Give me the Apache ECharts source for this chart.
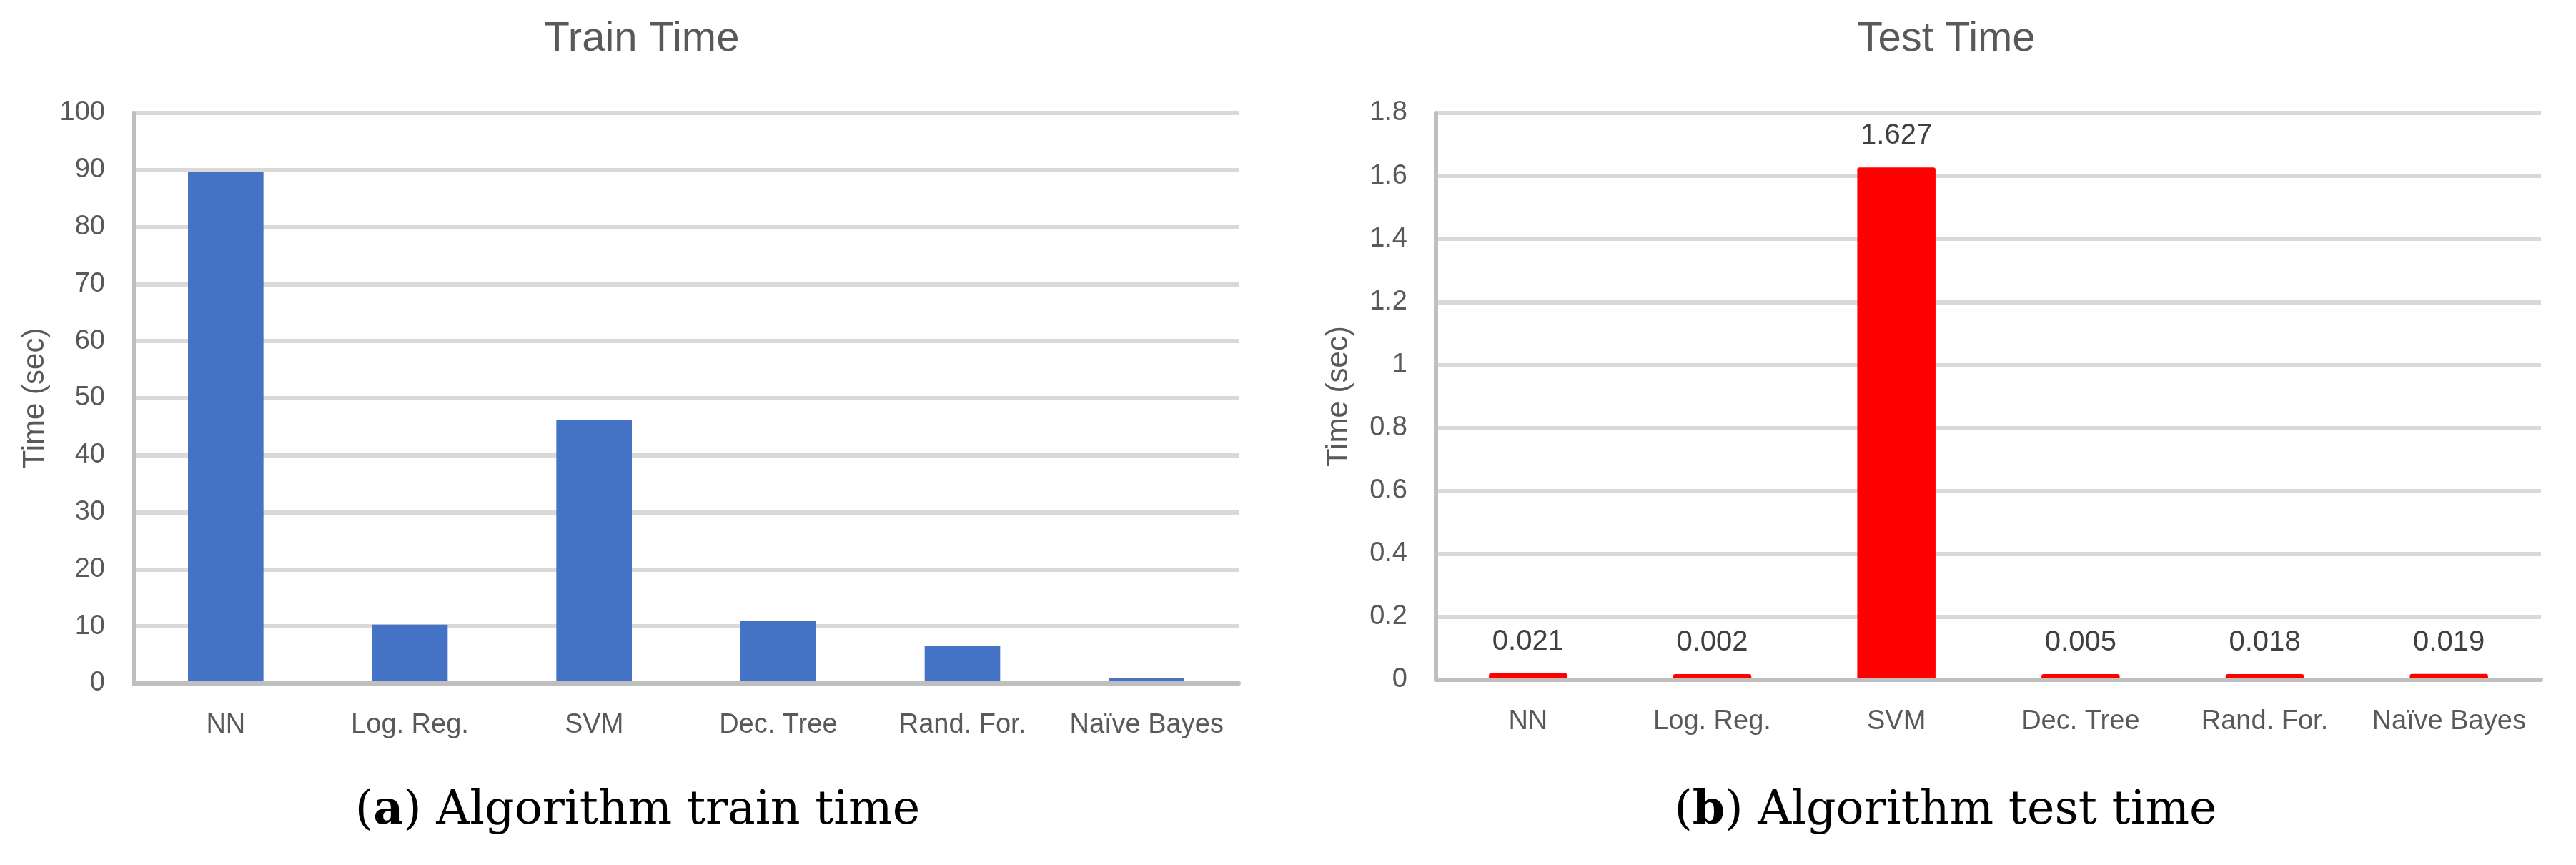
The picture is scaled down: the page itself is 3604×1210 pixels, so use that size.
<!DOCTYPE html>
<html>
<head>
<meta charset="utf-8">
<script src="https://cdn.jsdelivr.net/npm/echarts@6/dist/echarts.min.js"></script>
<style>
html,body{margin:0;padding:0;background:#fff;}
#chart{width:3604px;height:1210px;}
</style>
</head>
<body>
<div id="chart"></div>
<script>
const categories = ['NN', 'Log. Reg.', 'SVM', 'Dec. Tree', 'Rand. For.', 'Naïve Bayes'];
const trainTime = [89.6, 10.3, 46.1, 11.0, 6.6, 1.0];
const testTime = [0.021, 0.002, 1.627, 0.005, 0.018, 0.019];
const trainTitle = 'Train Time';
const testTitle = 'Test Time';
const yName = 'Time (sec)';
const captionA = ['a', 'Algorithm train time'];
const captionB = ['b', 'Algorithm test time'];

const FONT = '"Liberation Sans", Arial, sans-serif';
const GRAY = '#595959';

const chart = echarts.init(document.getElementById('chart'), null, {renderer: 'canvas'});

function xAxisCfg(gi) {
  return {
    type: 'category', gridIndex: gi, data: categories, z: 6,
    axisLine: {show: true, lineStyle: {color: '#BFBFBF', width: 6}},
    axisTick: {show: false},
    axisLabel: {color: GRAY, fontSize: 38, fontFamily: FONT, margin: 40, interval: 0},
    splitLine: {show: false}
  };
}
function yAxisCfg(gi, max, interval, gap) {
  return {
    type: 'value', gridIndex: gi, min: 0, max: max, interval: interval, z: 1,
    name: yName, nameLocation: 'middle', nameGap: gap, nameRotate: 90,
    nameTextStyle: {color: GRAY, fontSize: 42, fontFamily: FONT},
    axisLine: {show: true, lineStyle: {color: '#BFBFBF', width: 6}},
    axisTick: {show: false},
    axisLabel: {color: GRAY, fontSize: 38, fontFamily: FONT, margin: 40},
    splitLine: {show: true, lineStyle: {color: '#D9D9D9', width: 6}}
  };
}

chart.setOption({
  animation: false,
  backgroundColor: '#ffffff',
  title: [
    {text: trainTitle, left: 898, top: 26, textAlign: 'center', padding: 0,
     textStyle: {color: GRAY, fontSize: 58, fontWeight: 'normal', fontFamily: FONT}},
    {text: testTitle, left: 2723, top: 26, textAlign: 'center', padding: 0,
     textStyle: {color: GRAY, fontSize: 58, fontWeight: 'normal', fontFamily: FONT}},
    {text: '(' + '{b|' + captionA[0] + '}) ' + captionA[1], left: 892, top: 1103, textAlign: 'center', padding: 0,
     textStyle: {color: '#000', fontSize: 65, fontWeight: 'normal', fontFamily: '"DejaVu Serif", serif',
       rich: {b: {fontSize: 65, fontWeight: 'bold', fontFamily: '"DejaVu Serif", serif', color: '#000'}}}},
    {text: '(' + '{b|' + captionB[0] + '}) ' + captionB[1], left: 2722, top: 1103, textAlign: 'center', padding: 0,
     textStyle: {color: '#000', fontSize: 65, fontWeight: 'normal', fontFamily: '"DejaVu Serif", serif',
       rich: {b: {fontSize: 65, fontWeight: 'bold', fontFamily: '"DejaVu Serif", serif', color: '#000'}}}}
  ],
  grid: [
    {left: 187, top: 158, width: 1546, height: 798, containLabel: false},
    {left: 2009, top: 158, width: 1546, height: 793, containLabel: false}
  ],
  xAxis: [xAxisCfg(0), xAxisCfg(1)],
  yAxis: [yAxisCfg(0, 100, 10, 117), yAxisCfg(1, 1.8, 0.2, 115)],
  series: [
    {type: 'bar', xAxisIndex: 0, yAxisIndex: 0, data: trainTime, barWidth: '41%', z: 4,
     itemStyle: {color: '#4472C4'}},
    {type: 'bar', xAxisIndex: 1, yAxisIndex: 1, data: testTime, barWidth: '42.5%', barMinHeight: 8, z: 4,
     itemStyle: {color: '#FF0000', borderRadius: [3, 3, 0, 0]},
     label: {show: true, position: 'top', distance: 24, color: '#404040', fontSize: 40, fontFamily: FONT,
       formatter: function (p) { return testTime[p.dataIndex].toFixed(3); }}}
  ]
});
</script>
</body>
</html>
